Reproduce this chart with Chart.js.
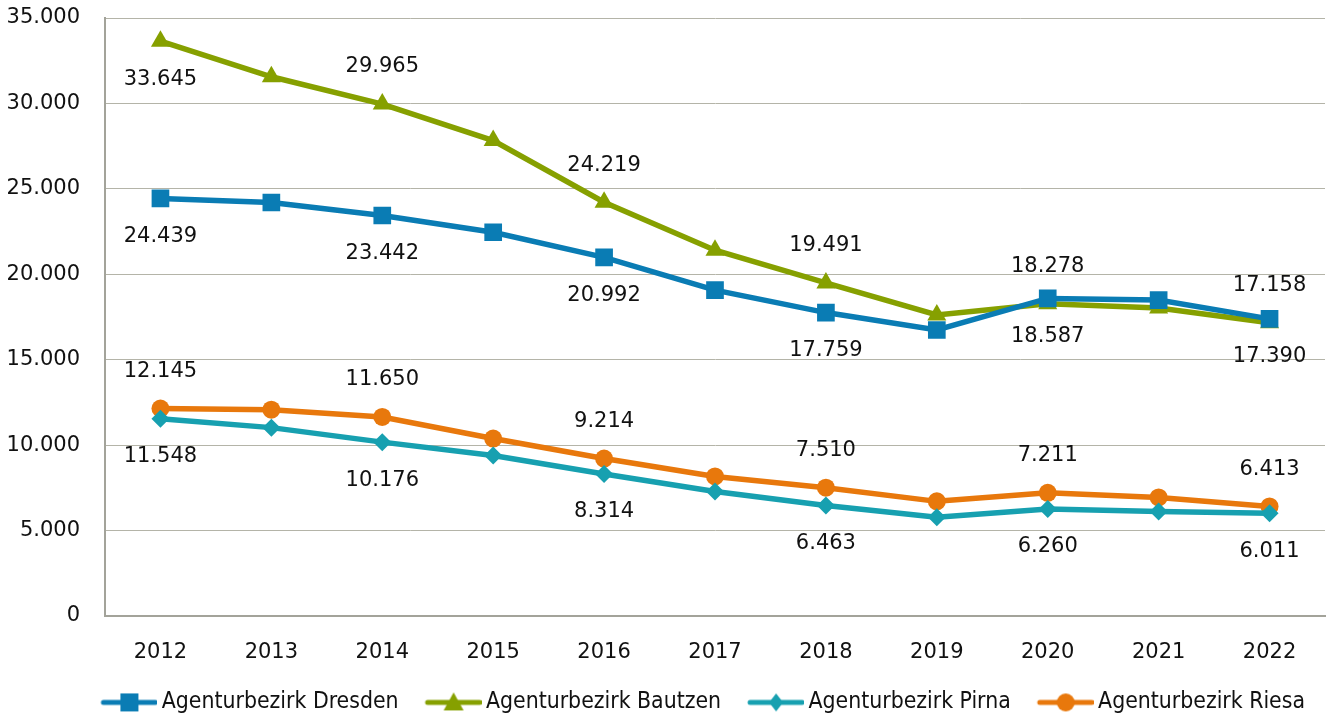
<!DOCTYPE html>
<html>
<head>
<meta charset="utf-8">
<script src="https://cdn.jsdelivr.net/npm/chart.js@4/dist/chart.umd.min.js"></script>
<style>
  html, body { margin: 0; padding: 0; background: #fff; }
  #wrap { width: 1330px; height: 718px; }
</style>
</head>
<body>
<div id="wrap"><canvas id="stage"></canvas></div>
<script>
// Jahre
var years = ["2012", "2013", "2014", "2015", "2016", "2017", "2018", "2019", "2020", "2021", "2022"];

// Werte je Agenturbezirk
var dresden = [24439, 24200, 23442, 22460, 20992, 19075, 17759, 16740, 18587, 18490, 17390];
var bautzen = [33645, 31560, 29965, 27825, 24219, 21410, 19491, 17620, 18278, 18030, 17158];
var pirna   = [11548, 11025, 10176, 9390, 8314, 7290, 6463, 5775, 6260, 6120, 6011];
var riesa   = [12145, 12075, 11650, 10385, 9214, 8170, 7510, 6710, 7211, 6940, 6413];

// Beschriftete Jahre (jedes zweite)
var labelledIdx = [0, 2, 4, 6, 8, 10];

var yTicks = [0, 5000, 10000, 15000, 20000, 25000, 30000, 35000];

var numFont = "'DejaVu Sans', sans-serif";
var legFont = "'Liberation Sans Narrow', 'DejaVu Sans Condensed', sans-serif";

function fmt(v) {
  return v.toLocaleString('de-DE');
}

// Legendensymbol: Linie mit Marker (breiter als die Box, damit die Abstaende passen)
function legendIcon(color, style) {
  var c = document.createElement('canvas');
  c.width = 70; c.height = 22;
  var g = c.getContext('2d');
  g.strokeStyle = color;
  g.lineWidth = 5;
  g.lineCap = 'round';
  g.beginPath(); g.moveTo(16, 11); g.lineTo(68, 11); g.stroke();
  g.fillStyle = color;
  g.beginPath();
  var cx = 42;
  if (style === 'rect') {
    g.rect(cx - 9, 2, 18, 18);
  } else if (style === 'triangle') {
    g.moveTo(cx, 1); g.lineTo(cx + 10, 19); g.lineTo(cx - 10, 19); g.closePath();
  } else if (style === 'rectRot') {
    g.moveTo(cx, 2); g.lineTo(cx + 7, 11); g.lineTo(cx, 20); g.lineTo(cx - 7, 11); g.closePath();
  } else {
    g.arc(cx, 11, 9, 0, Math.PI * 2);
  }
  g.fill();
  return c;
}

var colDresden = '#0a7cb4';
var colBautzen = '#86a000';
var colPirna = '#17a0b0';
var colRiesa = '#e8780c';

var mydata = {
  labels: years,
  datasets: [
    {
      label: 'Agenturbezirk Dresden', data: dresden,
      borderColor: colDresden, backgroundColor: colDresden,
      pointStyle: 'rect', pointRadius: 12.5, labelPos: ['below'],
      legendIcon: legendIcon(colDresden, 'rect')
    },
    {
      label: 'Agenturbezirk Bautzen', data: bautzen,
      borderColor: colBautzen, backgroundColor: colBautzen,
      pointStyle: 'triangle', pointRadius: 11, labelPos: ['below', 'above'],
      legendIcon: legendIcon(colBautzen, 'triangle')
    },
    {
      label: 'Agenturbezirk Pirna', data: pirna,
      borderColor: colPirna, backgroundColor: colPirna,
      pointStyle: 'rectRot', pointRadius: 9, labelPos: ['below'],
      legendIcon: legendIcon(colPirna, 'rectRot')
    },
    {
      label: 'Agenturbezirk Riesa', data: riesa,
      borderColor: colRiesa, backgroundColor: colRiesa,
      pointStyle: 'circle', pointRadius: 9, labelPos: ['above'],
      legendIcon: legendIcon(colRiesa, 'circle')
    }
  ]
};

// Datenbeschriftungen + feste Legendenhoehe
var valueLabels = {
  id: 'valueLabels',
  afterInit: function (chart) {
    var lg = chart.legend;
    if (lg && !lg._fixedFit) {
      var origFit = lg.fit;
      lg.fit = function () {
        origFit.call(this);
        this.height = 47;
      };
      lg._fixedFit = true;
    }
  },
  afterDatasetsDraw: function (chart) {
    var ctx = chart.ctx;
    ctx.save();
    ctx.font = '21px ' + numFont;
    ctx.fillStyle = '#111';
    ctx.textAlign = 'center';
    ctx.textBaseline = 'middle';
    chart.data.datasets.forEach(function (ds, di) {
      var meta = chart.getDatasetMeta(di);
      labelledIdx.forEach(function (i, k) {
        var pt = meta.data[i];
        var pos = ds.labelPos[Math.min(k, ds.labelPos.length - 1)];
        var dy = pos === 'above' ? -37 : 38;
        ctx.fillText(fmt(ds.data[i]), pt.x, pt.y + dy);
      });
    });
    ctx.restore();
  }
};

var options = {
  responsive: true,
  maintainAspectRatio: false,
  animation: false,
  layout: { autoPadding: false, padding: { top: 18, right: 5, left: 0, bottom: 0 } },
  elements: {
    line: { borderWidth: 5.5, tension: 0 },
    point: { borderWidth: 0 }
  },
  plugins: {
    tooltip: { enabled: false },
    legend: {
      position: 'bottom',
      align: 'end',
      labels: {
        usePointStyle: true,
        pointStyleWidth: 56,
        padding: 20,
        color: '#111',
        font: { family: legFont, size: 22.8 },
        generateLabels: function (chart) {
          return chart.data.datasets.map(function (ds, i) {
            return {
              text: ds.label, pointStyle: ds.legendIcon, fillStyle: ds.borderColor,
              strokeStyle: ds.borderColor, lineWidth: 0, datasetIndex: i, fontColor: '#111'
            };
          });
        }
      }
    }
  },
  scales: {
    x: {
      offset: true,
      afterFit: function (s) { s.height = 55; },
      grid: { display: false, offset: true },
      border: { display: true, color: '#a3a39a', width: 2 },
      ticks: { color: '#111', padding: 16, font: { family: numFont, size: 21 } }
    },
    y: {
      min: 0, max: 35000,
      afterFit: function (s) { s.width = 105; s.paddingTop = 0; s.paddingBottom = 0; },
      afterBuildTicks: function (s) { s.ticks = yTicks.map(function (v) { return { value: v }; }); },
      grid: { color: '#b4b4a8', lineWidth: 1, drawTicks: false },
      border: { display: true, color: '#a3a39a', width: 2 },
      ticks: {
        color: '#111', padding: 25, font: { family: numFont, size: 21 },
        callback: function (v) { return fmt(v); }
      }
    }
  }
};

var canvas = document.getElementById('stage');
var chart = new Chart(canvas, {
  type: 'line',
  data: mydata,
  options: options,
  plugins: [valueLabels]
});
</script>
</body>
</html>
